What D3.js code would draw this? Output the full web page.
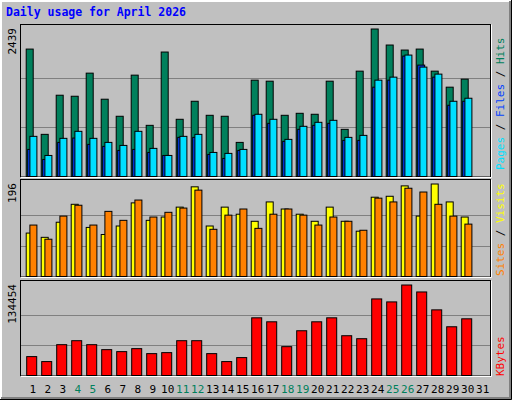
<!DOCTYPE html>
<html><head><meta charset="utf-8">
<script src="https://cdn.jsdelivr.net/npm/d3@7"></script>
<style>body{margin:0;background:#fff}text{font-family:"DejaVu Sans Mono",monospace}</style>
</head><body><svg width="512" height="400"></svg>
<script>
const days = d3.range(1, 32);
const weekends = [4, 5, 11, 12, 18, 19, 25, 26];
const hits = [2107,697,1344,1327,1709,1278,996,1676,846,2058,946,1244,1012,996,564,1593,1576,1012,1045,1029,1576,780,1742,2439,2174,2091,2107,1742,1477,1610];
const files = [448,282,564,636,531,498,431,448,398,348,647,647,365,299,431,1012,879,581,780,846,879,597,597,1477,1593,1991,1842,1643,1178,1244];
const pages = [664,348,631,747,631,564,514,747,465,348,664,697,398,382,448,1029,946,614,830,896,929,647,680,1593,1643,2008,1809,1693,1244,1294];
const visits = [92,83,115,153,104,89,107,156,119,126,147,190,107,147,132,117,158,143,132,117,147,117,96,168,170,192,128,196,158,126];
const sites = [109,79,128,151,109,138,119,162,126,136,145,183,100,130,143,102,132,143,130,109,126,117,98,166,158,187,179,153,128,111];
const kbytes = [28073,20685,45803,51713,45803,38415,35460,39893,32505,33983,51713,51713,32505,20685,26595,85695,79785,42848,66488,79785,85695,59100,54668,113768,109335,134454,124110,97515,72398,84218];

const svg = d3.select("svg");
svg.append("rect").attr("width", 512).attr("height", 400).attr("fill", "#c0c0c0");
// outer bevel
svg.append("path").attr("d", "M1,399V1H511").attr("stroke", "#fff").attr("stroke-width", 2).attr("fill", "none");
svg.append("path").attr("d", "M1,398H510V1").attr("stroke", "#808080").attr("stroke-width", 2).attr("fill", "none");
svg.append("path").attr("d", "M0,399.5H511.5V0").attr("stroke", "#000").attr("fill", "none");

svg.append("text").attr("x", 6).attr("y", 16).attr("fill", "#0000ff")
  .attr("font-weight", "bold").attr("font-size", 11.5).text("Daily usage for April 2026");

const x = d3.scaleLinear().domain([1, 31]).range([25.7, 475.7]);

const panels = [
  { top: 24, base: 176.5, max: 2439 },
  { top: 179, base: 276.5, max: 196 },
  { top: 280, base: 375.5, max: 134454 }
];

panels.forEach(p => {
  svg.append("rect").attr("x", 20.5).attr("y", p.top + 0.5).attr("width", 470).attr("height", p.base - p.top)
    .attr("fill", "#c0c0c0").attr("stroke", "#000");
  svg.append("path").attr("d", `M20.5,${p.base + 1}H491.5V${p.top + 0.5}`).attr("stroke", "#fff").attr("fill", "none");
  p.y = d3.scaleLinear().domain([0, p.max]).range([p.base, p.top + 5]);
  [1 / 3, 2 / 3].forEach(f => {
    const gy = Math.round(p.y(p.max * f)) + 0.5;
    svg.append("line").attr("x1", 21).attr("x2", 490).attr("y1", gy).attr("y2", gy).attr("stroke", "#808080");
  });
  svg.append("text").attr("transform", `translate(16,${p.top + 4}) rotate(-90)`).attr("text-anchor", "end")
    .attr("font-size", 11).attr("fill", "#000").text(p.max);
});

function bars(vals, p, dx, w, color) {
  svg.append("g").selectAll("rect").data(vals).join("rect")
    .attr("x", (d, i) => x(days[i]) + dx + 0.5)
    .attr("y", d => p.y(d))
    .attr("width", w)
    .attr("height", d => p.base - p.y(d))
    .attr("fill", color).attr("stroke", "#000");
}
bars(hits, panels[0], 0, 7, "#00805c");
bars(files, panels[0], 1.5, 7, "#0040ff");
bars(pages, panels[0], 3.7, 7, "#00e0ff");
bars(visits, panels[1], 0, 7, "#ffff00");
bars(sites, panels[1], 3.7, 7, "#ff8000");
bars(kbytes, panels[2], 0.5, 10, "#ff0000");

// right side legends
function legend(yEnd, parts) {
  const t = svg.append("text").attr("transform", `translate(504,${yEnd}) rotate(-90)`)
    .attr("font-size", 11);
  parts.forEach(([s, c]) => t.append("tspan").attr("fill", c).text(s));
}
legend(170, [["Pages", "#00e0ff"], [" / ", "#000"], ["Files", "#0040ff"], [" / ", "#000"], ["Hits", "#00805c"]]);
legend(276, [["Sites", "#ff8000"], [" / ", "#000"], ["Visits", "#ffff00"]]);
legend(376, [["KBytes", "#ff0000"]]);

svg.append("g").selectAll("text").data(days).join("text")
  .attr("x", d => x(d) + 7).attr("y", 393).attr("text-anchor", "middle").attr("font-size", 11)
  .attr("fill", d => weekends.includes(d) ? "#00805c" : "#000").text(d => d);
</script></body></html>
